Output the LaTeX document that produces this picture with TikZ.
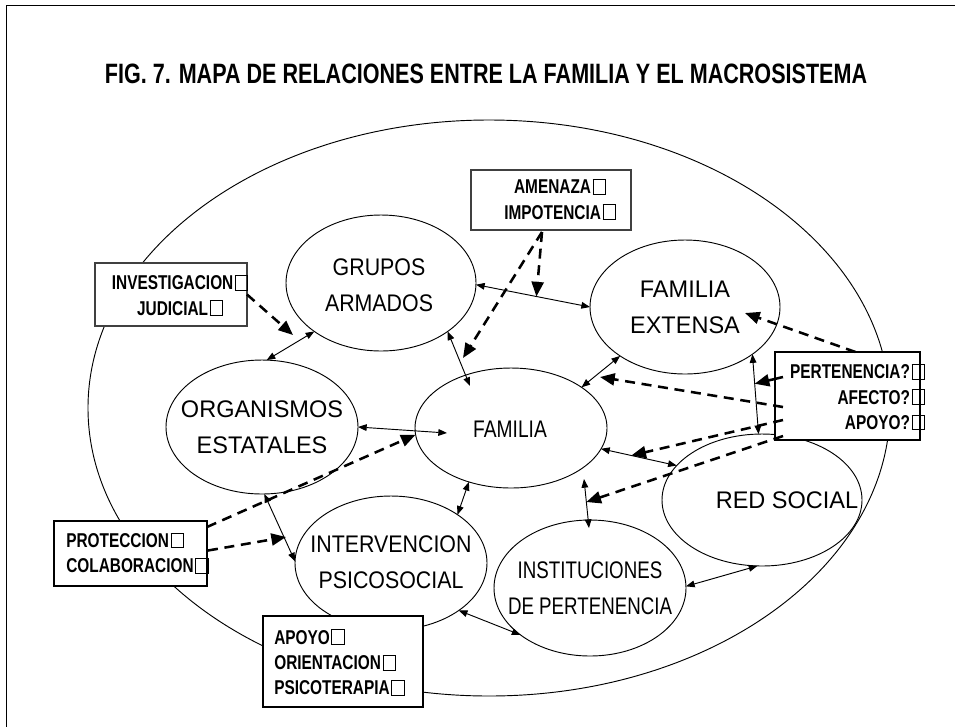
\documentclass[tikz,border=0pt]{standalone}
\usepackage{fontspec}
\setmainfont{Liberation Sans}
\newfontfamily\ffa[FakeStretch=0.98]{Liberation Sans}
\newfontfamily\ffb[FakeStretch=0.89]{Liberation Sans}
\newfontfamily\ffc[FakeStretch=0.80]{Liberation Sans}
\newfontfamily\ffd[FakeStretch=0.78]{Liberation Sans}
\newfontfamily\ffn[FakeStretch=0.77]{Liberation Sans}
\usetikzlibrary{shapes.geometric,arrows.meta,calc}
\newcommand\sqb{\hspace{0.08em}{\fboxsep=0pt\fboxrule=0.6pt\fbox{\rule{0pt}{0.7em}\rule{0.58em}{0pt}}}}
\tikzset{
  ell/.style={draw, ellipse, line width=0.7pt, inner sep=0pt, outer sep=0pt},
  etext/.style={align=center, inner sep=0pt, font={#1\fontsize{18pt}{27pt}\selectfont}},
  thinbox/.style={draw=black!75, fill=white, line width=0.9pt, rectangle, inner sep=0pt, outer sep=0pt},
  thickbox/.style={draw=black, fill=white, line width=2.2pt, rectangle, inner sep=0pt, outer sep=0pt},
  btext/.style={inner sep=0pt, font=\ffn\bfseries\fontsize{15pt}{19pt}\selectfont},
  dbl/.style={line width=0.7pt, {Triangle[length=6.5pt,width=5pt]}-{Triangle[length=6.5pt,width=5pt]}},
  dsh/.style={line width=1.9pt, dash pattern=on 7.5pt off 5pt, -{Triangle[length=11pt,width=9pt]}},
  thk/.style={line width=1.9pt, -{Triangle[length=11pt,width=9pt]}},
}
\begin{document}
\begin{tikzpicture}[x=0.75pt,y=-0.75pt]
\useasboundingbox (0,0) rectangle (959,726);
% frame
\draw[line width=0.7pt] (6,760) -- (6,5) -- (955,5);
% title
\node[inner sep=0pt, font=\ffn\bfseries\fontsize{21pt}{25pt}\selectfont] (title) at (486,74)
  {FIG. 7. MAPA DE RELACIONES ENTRE LA FAMILIA Y EL MACROSISTEMA};
% big ellipse
\node[ell, minimum width=601.5pt, minimum height=432pt] (big) at (489,408) {};
% ellipses
\node[ell, minimum width=142.5pt, minimum height=102pt] (grp) at (381,283) {};
\node[ell, minimum width=142.5pt, minimum height=100.5pt] (fe) at (685,307) {};
\node[ell, minimum width=144pt, minimum height=100.5pt] (org) at (262,427) {};
\node[ell, minimum width=144pt, minimum height=90pt] (fam) at (511,428) {};
\node[ell, minimum width=144pt, minimum height=100.5pt] (int) at (391,563) {};
\node[ell, minimum width=144pt, minimum height=102pt] (ins) at (590,588) {};
\node[ell, minimum width=150pt, minimum height=99pt] (red) at (762,500) {};
% ellipse texts
\node[etext=\ffb] (grpt) at (379,285) {GRUPOS\\ARMADOS};
\node[etext=\ffa] (fet) at (685,307.5) {FAMILIA\\EXTENSA};
\node[etext=\ffa] (orgt) at (262,427.5) {ORGANISMOS\\ESTATALES};
\node[etext=\ffc] (famt) at (510,429) {FAMILIA};
\node[etext=\ffb] (intt) at (391,562) {INTERVENCION\\PSICOSOCIAL};
\node[etext=\ffd] (inst) at (590,588.5) {INSTITUCIONES\\DE PERTENENCIA};
\node[etext=\ffa] (redt) at (787,500) {RED SOCIAL};
% boxes
\node[thinbox, minimum width=120pt, minimum height=45pt] (ame) at (551,200) {};
\node[thinbox, minimum width=114pt, minimum height=47.25pt] (inv) at (171,294.5) {};
\node[thickbox, minimum width=108.75pt, minimum height=66pt] (per) at (847.5,396) {};
\node[thickbox, minimum width=114.75pt, minimum height=48.75pt] (pro) at (130.5,553.5) {};
\node[thickbox, minimum width=120pt, minimum height=68.25pt] (apo) at (343,661.5) {};
% box texts
\node[btext, align=center] (amet) at (560,199.5) {AMENAZA\sqb\\IMPOTENCIA\sqb};
\node[btext, align=center] (invt) at (180,295.5) {INVESTIGACION\sqb\\JUDICIAL\sqb};
\node[btext, align=right, anchor=east] (pert) at (925,397) {PERTENENCIA?\sqb\\AFECTO?\sqb\\APOYO?\sqb};
\node[btext, align=left, anchor=west] (prot) at (66,553) {PROTECCION\sqb\\COLABORACION\sqb};
\node[btext, align=left, anchor=west] (apot) at (274,662.5) {APOYO\sqb\\ORIENTACION\sqb\\PSICOTERAPIA\sqb};
% helper coordinates
\coordinate (famI) at ($(fam)+(73,51)$);
\coordinate (insT) at ($(ins)+(-1,-60)$);
\coordinate (gfm) at ($(grp.-1)!0.53!(fe.180)$);
\coordinate (frv) at ($(fe.-35)!0.37!(red.93)$);
\coordinate (frm) at ($(fam.-13)!0.4!(red.158)$);
\coordinate (fim) at ($(famI)!0.47!(insT)$);
\coordinate (amS) at ($(ame.south)+(-9,2)$);
% solid double arrows
\draw[dbl] (grp.-1) -- (fe.180);
\draw[dbl] (grp.-144) -- (org.86);
\draw[dbl] (grp.-36) -- ($(fam)+(-41,-42)$);
\draw[dbl] (fe.-143) -- (fam.30);
\draw[dbl] (org.0) -- ($(fam)+(-64,5)$);
\draw[dbl] (org.-88) -- (int.179);
\draw[dbl] (fam.-128) -- (int.36);
\draw[dbl] (famI) -- (insT);
\draw[dbl] (fam.-13) -- (red.158);
\draw[dbl] (int.-35) -- (ins.-146);
\draw[dbl] (ins.1) -- (red.-94);
\draw[dbl] (fe.-35) -- (red.93);
% dashed arrows
\draw[dsh] (inv.east) -- ($(grp)+(-88,52)$);
\draw[dsh] (amS) -- (gfm);
\draw[dsh] (amS) -- ($(fam)+(-48,-70)$);
\draw[dsh] ($(per.north)+(8,0)$) -- ($(fe)+(60,6)$);
\draw[thk] ($(per.west)+(8,-19)$) -- (frv);
\draw[dsh] ($(per.west)+(8,11)$) -- ($(fam)+(89,-51)$);
\draw[dsh] ($(per.west)+(8,24)$) -- (frm);
\draw[dsh] ($(per.west)+(8,40)$) -- (fim);
\draw[dsh] ($(pro.north east)+(0,6)$) -- (fam.-176);
\draw[dsh] ($(pro.east)+(1,-3)$) -- ($(int)+(-105,-26)$);
\end{tikzpicture}
\end{document}
